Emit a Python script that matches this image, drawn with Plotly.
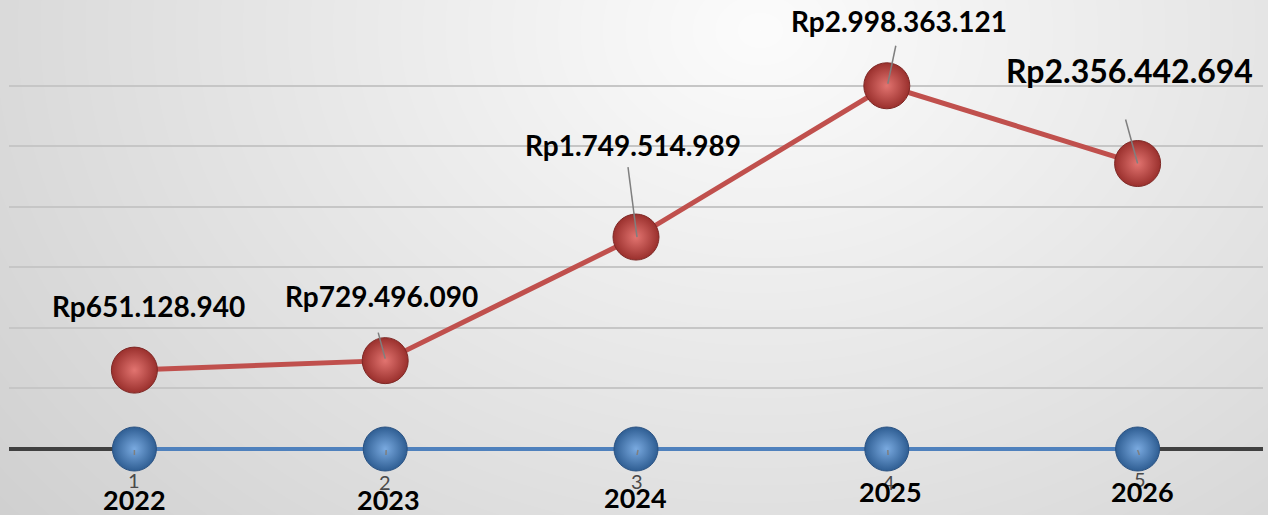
import base64, struct, zlib
import numpy as np
import plotly.graph_objects as go

# ---------------- data ----------------
years = ["2022", "2023", "2024", "2025", "2026"]
revenue = [651128940, 729496090, 1749514989, 2998363121, 2356442694]
revenue_labels = ["Rp651.128.940", "Rp729.496.090", "Rp1.749.514.989",
                  "Rp2.998.363.121", "Rp2.356.442.694"]
index_series = [0, 0, 0, 0, 0]
index_labels = ["1", "2", "3", "4", "5"]

# ---------------- style / layout ----------------
W, H = 1268, 515
ML, MR, MT, MB = 9, 5, 24, 60
AXIS_Y_PX = 449          # pixel row of the zero line
TOP_GRID_PX = 25         # pixel row of the 3.5bn gridline
RED, BLUE = "#c0504d", "#4f81bd"

red_lbl_shift = [(14, 64), (-4, 65), (-3, 92), (12, 65), (-8, 93)]
red_lbl_size = [28, 28, 28, 28, 32]
red_leader = [None, ((-7, 28), (0, 2)), ((-8, 70), (1, 0)), ((9, 40), (1, 2)), ((-12, 44), (0, 0))]
blue_leader = [((0, -1), (0, -21)), ((1, -1), (0, -21)), ((2, -1), (-3, -26)),
               ((1, -1), (2, -21)), ((0, -1), (6, -18))]
blue_lbl_shift = [(0, -31), (0, -33), (1, -32), (2, -33), (2, -30)]
year_shift = [(0, -50), (3, -50), (-1, -48), (4, -42), (5, -42)]


def gradient_png(w, h):
    yy, xx = np.mgrid[0:h, 0:w]
    d = np.sqrt(((xx - 760) / 900.0) ** 2 + ((yy - 30) / 700.0) ** 2)
    v = np.clip(252 - 40 * d, 0, 255).astype(np.uint8)
    raw = b"".join(b"\x00" + row.tobytes() for row in v)

    def chunk(t, data):
        return struct.pack(">I", len(data)) + t + data + struct.pack(">I", zlib.crc32(t + data) & 0xffffffff)

    png = (b"\x89PNG\r\n\x1a\n"
           + chunk(b"IHDR", struct.pack(">IIBBBBB", w, h, 8, 0, 0, 0, 0))
           + chunk(b"IDAT", zlib.compress(raw, 9))
           + chunk(b"IEND", b""))
    return "data:image/png;base64," + base64.b64encode(png).decode()


# y range so that 0 sits at AXIS_Y_PX and 3.5bn at TOP_GRID_PX
u = 3500e6 / (AXIS_Y_PX - TOP_GRID_PX)
plot_bottom_px = H - MB
ymin = -(plot_bottom_px - AXIS_Y_PX) * u
ymax = (AXIS_Y_PX - MT) * u

x = list(range(len(years)))
fig = go.Figure()

fig.add_trace(go.Scatter(
    x=x, y=index_series, mode="lines+markers", cliponaxis=False,
    line=dict(color=BLUE, width=4),
    marker=dict(size=44, color="#2f5e93", line=dict(color="#2a5282", width=1),
                gradient=dict(type="radial", color="#7aaae0")),
    hoverinfo="skip", showlegend=False))

fig.add_trace(go.Scatter(
    x=x, y=revenue, mode="lines+markers", cliponaxis=False,
    line=dict(color=RED, width=5),
    marker=dict(size=46, color="#9a302d", line=dict(color="#7e2825", width=1),
                gradient=dict(type="radial", color="#e27470")),
    hoverinfo="skip", showlegend=False))

shapes = [dict(type="line", xref="paper", x0=0, x1=1, yref="y", y0=0, y1=0,
               ysizemode="pixel", yanchor=0,
               line=dict(color="#404040", width=4), layer="below")]
shapes[0].pop("ysizemode"); shapes[0].pop("yanchor")
for i, v in enumerate(revenue):
    if red_leader[i]:
        (a, b), (c, d) = red_leader[i]
        shapes.append(dict(type="line", xref="x", xsizemode="pixel", xanchor=i,
                           x0=a, x1=c, yref="y", ysizemode="pixel", yanchor=v,
                           y0=b, y1=d, line=dict(color="#7f7f7f", width=1.5)))
for i, v in enumerate(index_series):
    (a, b), (c, d) = blue_leader[i]
    shapes.append(dict(type="line", xref="x", xsizemode="pixel", xanchor=i,
                       x0=a, x1=c, yref="y", ysizemode="pixel", yanchor=v,
                       y0=b, y1=d, line=dict(color="#7f7f7f", width=1.5)))

annotations = []
for i, (v, t) in enumerate(zip(revenue, revenue_labels)):
    annotations.append(dict(x=i, y=v, xref="x", yref="y", text=t, showarrow=False,
                            xshift=red_lbl_shift[i][0], yshift=red_lbl_shift[i][1],
                            font=dict(family="Lato", size=red_lbl_size[i], color="#000000", weight="bold")))
for i, (v, t) in enumerate(zip(index_series, index_labels)):
    annotations.append(dict(x=i, y=v, xref="x", yref="y", text=t, showarrow=False,
                            xshift=blue_lbl_shift[i][0], yshift=blue_lbl_shift[i][1],
                            font=dict(family="Lato", size=20, color="#4a4a4a")))
for i, t in enumerate(years):
    annotations.append(dict(x=i, y=0, xref="x", yref="y", text=t, showarrow=False,
                            xshift=year_shift[i][0], yshift=year_shift[i][1],
                            font=dict(family="Lato", size=27, color="#000000", weight="bold")))

pw, ph = W - ML - MR, H - MT - MB
fig.update_layout(
    width=W, height=H,
    margin=dict(l=ML, r=MR, t=MT, b=MB, pad=0),
    paper_bgcolor="#e6e6e6", plot_bgcolor="rgba(0,0,0,0)",
    xaxis=dict(range=[-0.5, 4.5], showticklabels=False, showgrid=False, zeroline=False,
               showline=False, fixedrange=True),
    yaxis=dict(range=[ymin, ymax], tickmode="array",
               tickvals=[500e6 * k for k in range(1, 8)], showticklabels=False,
               showgrid=True, gridcolor="#c6c6c6", gridwidth=1.5, zeroline=False,
               showline=False, fixedrange=True),
    shapes=shapes, annotations=annotations,
    images=[dict(source=gradient_png(W, H), xref="paper", yref="paper",
                 x=-ML / pw, y=1 + MT / ph, sizex=W / pw, sizey=H / ph,
                 sizing="stretch", xanchor="left", yanchor="top", layer="below")],
)

fig.write_html("out.html", config=dict(displayModeBar=False),
               post_script="document.body.style.margin='0';document.body.style.overflow='hidden';")
